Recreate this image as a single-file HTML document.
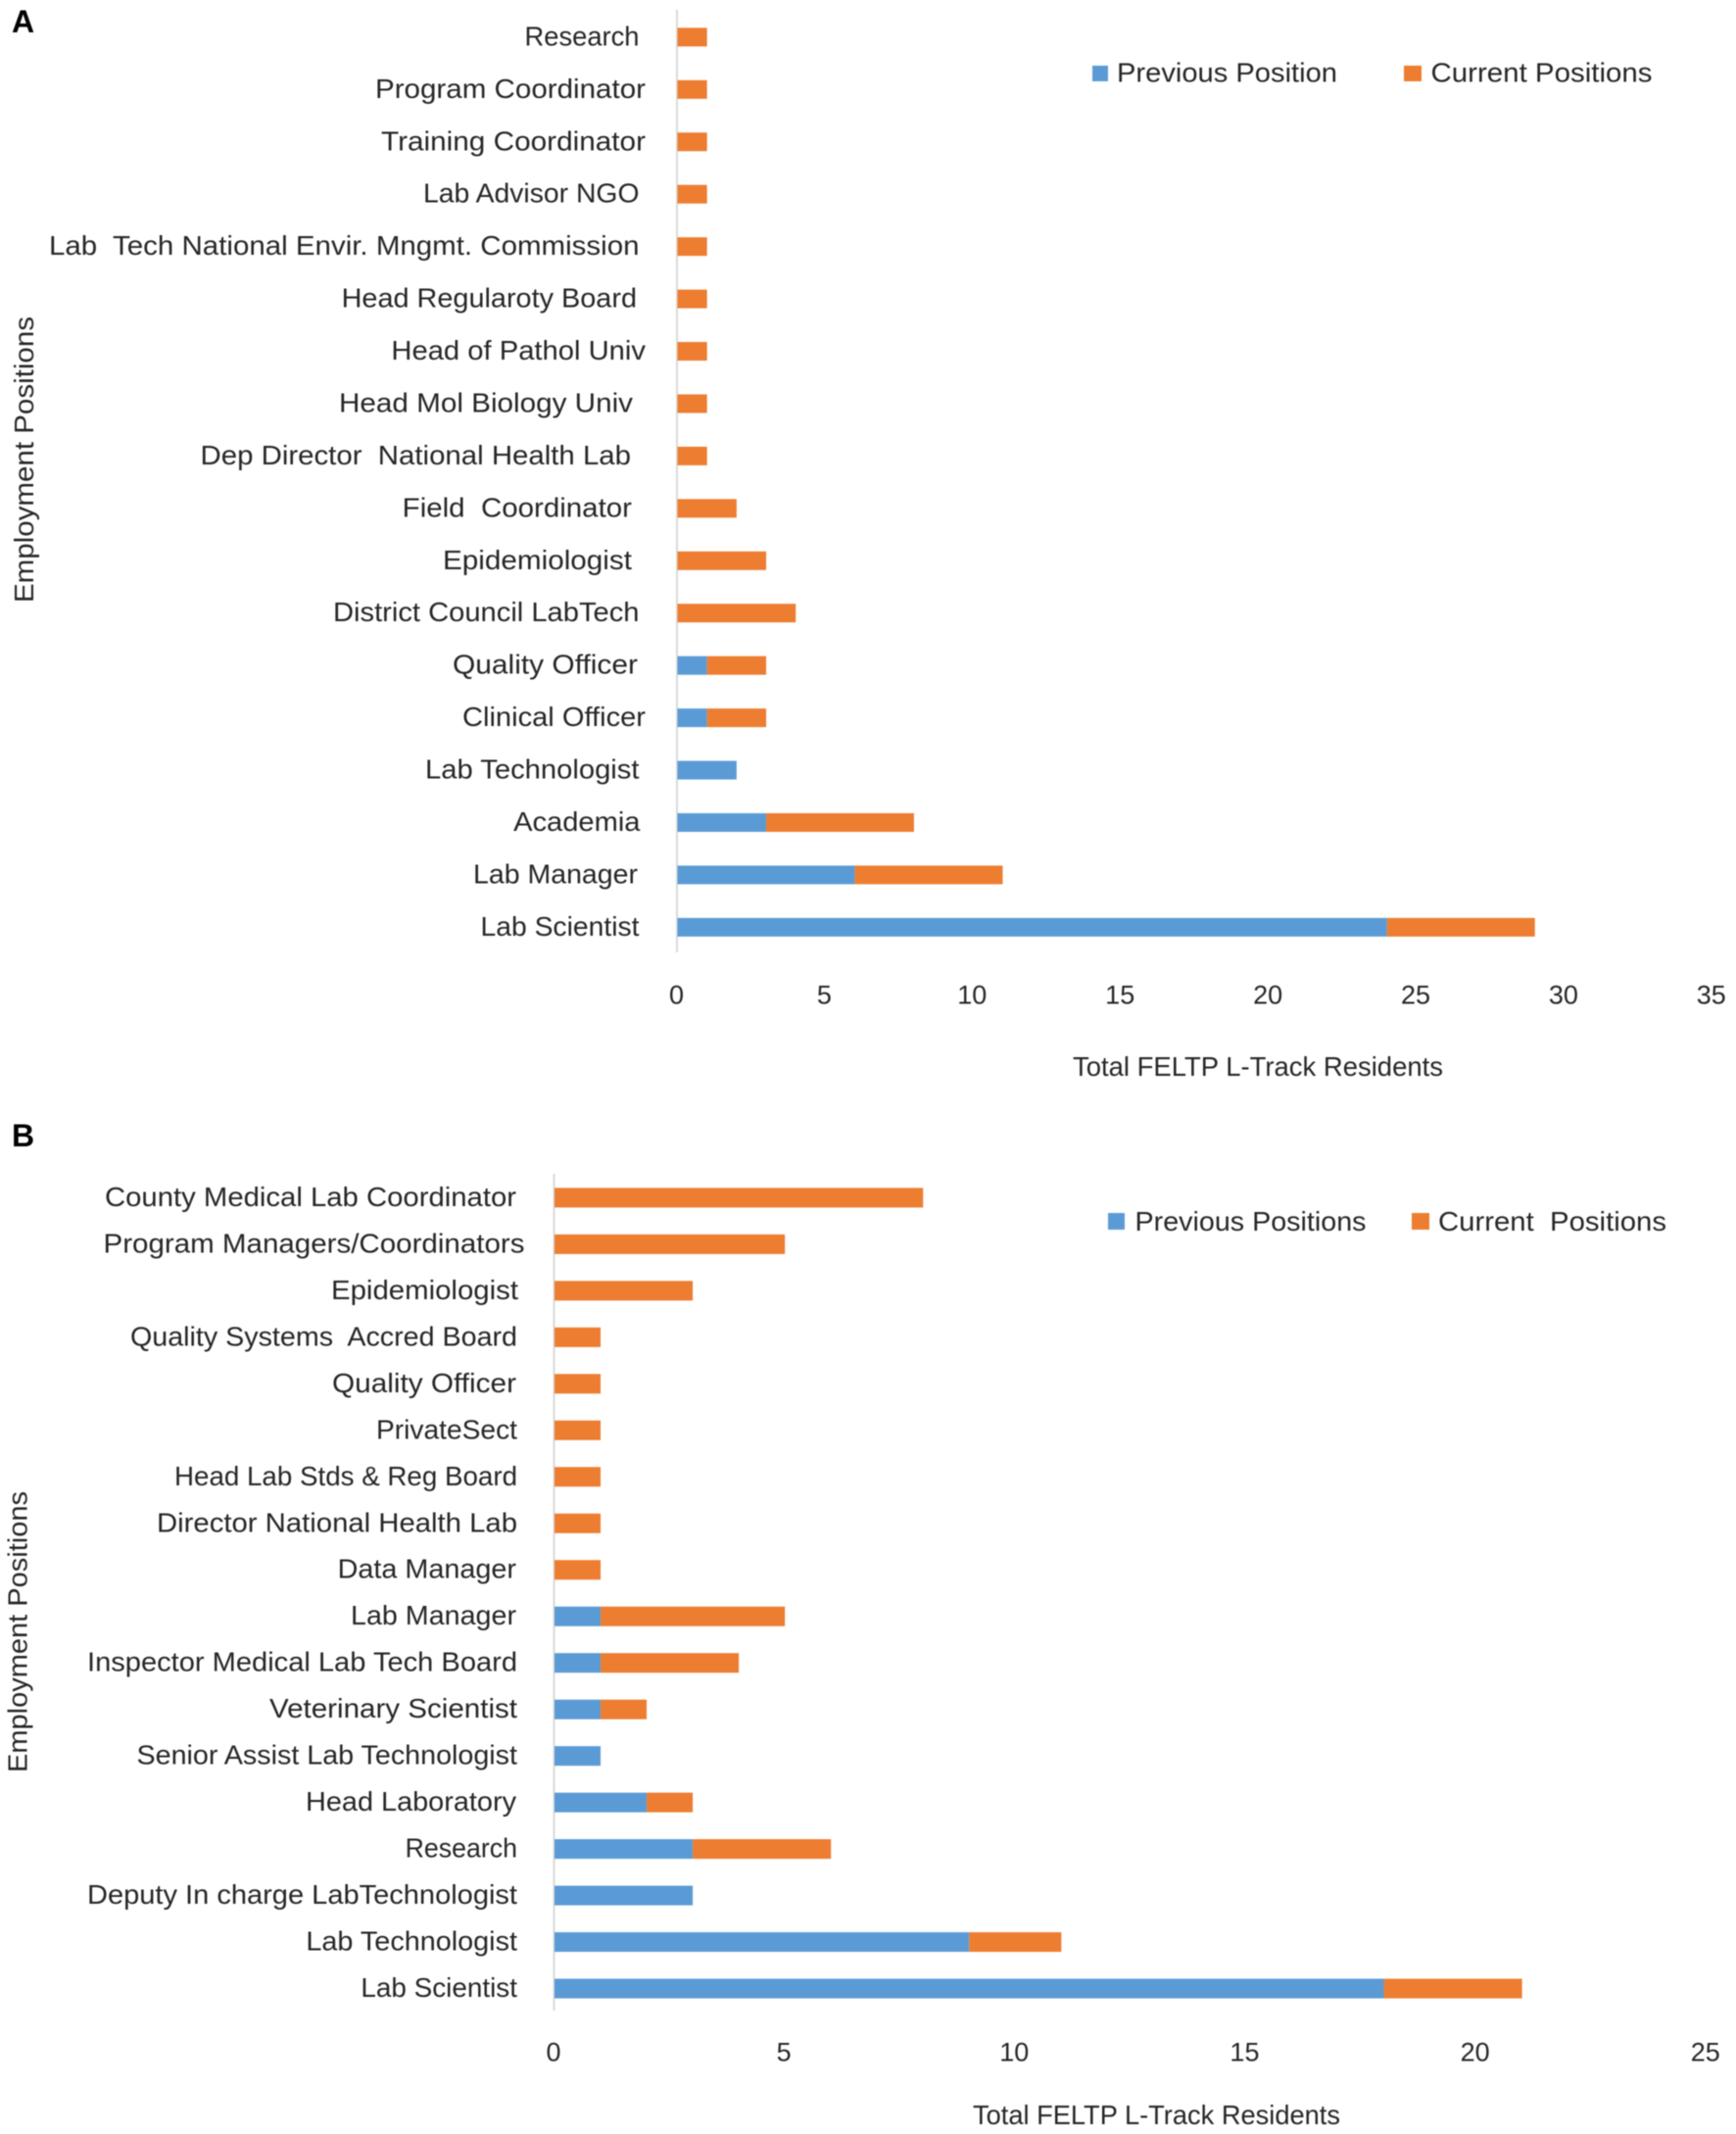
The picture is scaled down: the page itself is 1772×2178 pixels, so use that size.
<!DOCTYPE html>
<html lang="en">
<head>
<meta charset="utf-8">
<title>FELTP L-Track Residents: Employment Positions</title>
<style>
  html, body { margin: 0; padding: 0; background: #fff; }
  svg { display: block; filter: blur(0.45px); }
  text { font-family: "Liberation Sans", sans-serif; fill: #262626; white-space: pre; }
  .cat { font-size: 28px; }
  .tick { font-size: 27px; text-anchor: middle; }
  .title, .legend { font-size: 28px; }
  .panel { font-size: 32px; font-weight: bold; fill: #000; }
</style>
</head>
<body>
<svg id="figure" xmlns="http://www.w3.org/2000/svg" width="1772" height="2178" viewBox="0 0 1772 2178">
  <rect x="0" y="0" width="1772" height="2178" fill="#ffffff"/>

  <text class="panel" x="12" y="33">A</text>
  <g id="chartA"></g>
  <text class="title" transform="translate(34,615) rotate(-90)" textLength="292" lengthAdjust="spacingAndGlyphs">Employment Positions</text>
  <text class="title" x="1095" y="1098" textLength="378" lengthAdjust="spacingAndGlyphs">Total FELTP L-Track Residents</text>
  <g>
    <rect x="1115" y="67" width="16" height="16" fill="#5B9BD5"/>
    <text class="legend" x="1140" y="83.5" textLength="225" lengthAdjust="spacingAndGlyphs">Previous Position</text>
    <rect x="1433" y="67" width="18" height="16" fill="#ED7D31"/>
    <text class="legend" x="1460.5" y="83.5" textLength="226" lengthAdjust="spacingAndGlyphs">Current Positions</text>
  </g>

  <text class="panel" x="12" y="1170">B</text>
  <g id="chartB"></g>
  <text class="title" transform="translate(27.5,1809) rotate(-90)" textLength="287" lengthAdjust="spacingAndGlyphs">Employment Positions</text>
  <text class="title" x="993" y="2168" textLength="375" lengthAdjust="spacingAndGlyphs">Total FELTP L-Track Residents</text>
  <g>
    <rect x="1131" y="1238" width="17" height="17" fill="#5B9BD5"/>
    <text class="legend" x="1158.5" y="1256" textLength="236" lengthAdjust="spacingAndGlyphs">Previous Positions</text>
    <rect x="1441" y="1238" width="18" height="17" fill="#ED7D31"/>
    <text class="legend" x="1468" y="1256" textLength="233" lengthAdjust="spacingAndGlyphs">Current  Positions</text>
  </g>
</svg>

<script>
const categoriesA = ["Research","Program Coordinator","Training Coordinator","Lab Advisor NGO","Lab  Tech National Envir. Mngmt. Commission","Head Regularoty Board","Head of Pathol Univ","Head Mol Biology Univ","Dep Director  National Health Lab","Field  Coordinator","Epidemiologist","District Council LabTech","Quality Officer","Clinical Officer","Lab Technologist","Academia","Lab Manager","Lab Scientist"];
const previousA = [0,0,0,0,0,0,0,0,0,0,0,0,1,1,2,3,6,24];
const currentA = [1,1,1,1,1,1,1,1,1,2,3,4,2,2,0,5,5,5];
const xTicksA = [0,5,10,15,20,25,30,35];

const categoriesB = ["County Medical Lab Coordinator","Program Managers/Coordinators","Epidemiologist","Quality Systems  Accred Board","Quality Officer","PrivateSect","Head Lab Stds & Reg Board","Director National Health Lab","Data Manager","Lab Manager","Inspector Medical Lab Tech Board","Veterinary Scientist","Senior Assist Lab Technologist","Head Laboratory","Research","Deputy In charge LabTechnologist","Lab Technologist","Lab Scientist"];
const previousB = [0,0,0,0,0,0,0,0,0,1,1,1,1,2,3,3,9,18];
const currentB = [8,5,3,1,1,1,1,1,1,4,3,1,0,1,3,0,2,3];
const xTicksB = [0,5,10,15,20,25];

/* Label typesetting of the source image (layout only, not data):
   horizontal alignment jitter and fitted text width of each category label. */
const labelNudgeA = [0,6.5,6.5,0,0,-2.5,6.5,-6.5,-8.5,-7.5,-7.5,0,-1.5,6.5,0,1,-1.5,0];
const labelFitA = [117,276,270,220.5,602.5,301.4,259.6,300,439.5,234.3,193,312.5,189,187,218.5,129.4,168,162];
const labelNudgeB = [-1,7.5,1,0,-1,0,0,0,-1,-1,0,0,0,-1,0,0,0,0];
const labelFitB = [420,430,191,395,188,144,350,368,182.4,169,439,253,388.5,215,114.4,439,215.6,159.6];

const SVG_NS = "http://www.w3.org/2000/svg";

function drawChart(cfg) {
  const host = document.getElementById(cfg.host);
  const xScale = v => cfg.x0 + v * cfg.unit;
  const yScale = i => cfg.yTop + i * cfg.step;

  const axis = document.createElementNS(SVG_NS, "line");
  
  
  axis.setAttribute("x1", cfg.x0 - 0.5);
  axis.setAttribute("x2", cfg.x0 - 0.5);
  axis.setAttribute("y1", cfg.axisTop);
  axis.setAttribute("y2", cfg.axisBottom);
  axis.setAttribute("stroke", "#d9d9d9");
  axis.setAttribute("stroke-width", "2");
  host.appendChild(axis);

  cfg.categories.forEach((name, i) => {
    const y = yScale(i);

    const label = document.createElementNS(SVG_NS, "text");
    
    
    label.setAttribute("class", "cat");
    label.setAttribute("x", cfg.labelRight + cfg.nudge[i]);
    label.setAttribute("y", y + 8.5);
    label.setAttribute("text-anchor", "end");
    label.setAttribute("textLength", cfg.fit[i]);
    label.setAttribute("lengthAdjust", "spacingAndGlyphs");
    label.textContent = name;
    host.appendChild(label);

    const prev = document.createElementNS(SVG_NS, "rect");
    
    
    prev.setAttribute("x", xScale(0));
    prev.setAttribute("y", y - cfg.barH / 2);
    prev.setAttribute("width", xScale(cfg.previous[i]) - xScale(0));
    prev.setAttribute("height", cfg.barH);
    prev.setAttribute("fill", "#5B9BD5");
    host.appendChild(prev);

    const curr = document.createElementNS(SVG_NS, "rect");
    
    
    curr.setAttribute("x", xScale(cfg.previous[i]));
    curr.setAttribute("y", y - cfg.barH / 2);
    curr.setAttribute("width", xScale(cfg.previous[i] + cfg.current[i]) - xScale(cfg.previous[i]));
    curr.setAttribute("height", cfg.barH);
    curr.setAttribute("fill", "#ED7D31");
    host.appendChild(curr);
  });

  cfg.ticks.forEach(t => {
    const tick = document.createElementNS(SVG_NS, "text");
    
    
    tick.setAttribute("class", "tick");
    tick.setAttribute("x", xScale(t) - 1);
    tick.setAttribute("y", cfg.tickY);
    tick.textContent = t;
    host.appendChild(tick);
  });
}

drawChart({
  host: "chartA", categories: categoriesA, previous: previousA, current: currentA, ticks: xTicksA, nudge: labelNudgeA, fit: labelFitA,
  x0: 691.5, unit: 30.18, yTop: 37.9, step: 53.44, barH: 19,
  axisTop: 10, axisBottom: 972, labelRight: 652.5, tickY: 1024.5
});
drawChart({
  host: "chartB", categories: categoriesB, previous: previousB, current: currentB, ticks: xTicksB, nudge: labelNudgeB, fit: labelFitB,
  x0: 566, unit: 47.03, yTop: 1222.4, step: 47.48, barH: 20,
  axisTop: 1198, axisBottom: 2052, labelRight: 528, tickY: 2103.5
});
</script>
</body>
</html>
